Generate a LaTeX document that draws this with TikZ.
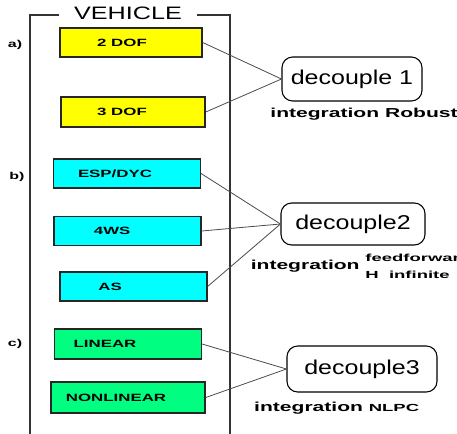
\documentclass[tikz,border=0pt]{standalone}
\usepackage{fontspec}
\setmainfont{Liberation Sans}
\newfontfamily\boxfont[FakeStretch=1.6]{Liberation Sans}
\newfontfamily\decfont[FakeStretch=1.25]{Liberation Sans}
\newfontfamily\titlefont[FakeStretch=1.4]{Liberation Sans}
\newfontfamily\intfont[FakeStretch=1.62]{Liberation Sans}
\newfontfamily\smallfont[FakeStretch=1.8]{Liberation Sans}
\usepackage{tikz}
\usetikzlibrary{positioning}
\definecolor{dofyellow}{RGB}{255,255,0}
\definecolor{ctrlcyan}{RGB}{0,255,255}
\definecolor{modgreen}{RGB}{0,255,128}
\tikzstyle{sysbox} = [rectangle, draw=black!85, line width=1.1pt, minimum width=110pt, minimum height=21.75pt, inner sep=0pt, font=\boxfont\fontsize{7.9}{10}\selectfont\bfseries]
\tikzstyle{decouple} = [rectangle, rounded corners=8pt, draw=black, line width=0.8pt, font=\decfont\fontsize{15}{18}\selectfont]
\tikzstyle{intlabel} = [font=\intfont\fontsize{9.75}{12}\selectfont\bfseries, inner sep=0pt]
\tikzstyle{part} = [font=\boxfont\fontsize{7.5}{9}\selectfont\bfseries]
\tikzstyle{link} = [draw=black!70, line width=0.6pt]
\tikzset{pad/.style={execute at end node={\hspace*{#1pt}}}}
\newcommand{\smalltxt}{\smallfont\fontsize{7.7}{12.75}\selectfont\bfseries}
\begin{document}
\begin{tikzpicture}[x=0.75pt,y=-0.75pt]
\useasboundingbox[fill=white] (0,0) rectangle (457,433);
% vehicle frame
\draw[line width=0.8pt, black!80] (30,440) |- (230,15) -- (230,440);
\node (vehicle) [fill=white, inner xsep=11pt, inner ysep=1pt, font=\titlefont\fontsize{13.5}{16}\selectfont] at (128,13) {VEHICLE};

% a) dynamic models
\node (partA) [part] at (15,45) {a)};
\node (dof2) [sysbox, fill=dofyellow, minimum width=106.5pt, pad=13.5] at (131,42.5) {2 DOF};
\node (dof3) [sysbox, fill=dofyellow, minimum width=108pt, minimum height=22.5pt, pad=16.5] at (133,112) {3 DOF};
\node (dec1) [decouple, minimum width=105pt, minimum height=33pt] at (352,79) {decouple 1};
\node (int1) [intlabel, below=5pt of dec1, xshift=9pt] {integration Robust};

% b) control systems
\node (partB) [part] at (17,177) {b)};
\node (esp) [sysbox, fill=ctrlcyan, pad=18] at (127,173.5) {ESP/DYC};
\node (fourws) [sysbox, fill=ctrlcyan, pad=23] at (127.5,231) {4WS};
\node (as) [sysbox, fill=ctrlcyan, pad=35] at (133.5,286.5) {AS};
\node (dec2) [decouple, minimum width=108pt, minimum height=31.5pt] at (353,224) {decouple2};
\node (int2) [intlabel, below=3pt of dec2, xshift=6pt] {integration {\smalltxt\begin{tabular}{@{}l@{}}feedforward\\H\ \ infinite\end{tabular}}};

% c) models
\node (partC) [part] at (15,344) {c)};
\node (linear) [sysbox, fill=modgreen, minimum height=22.5pt, pad=34.5] at (128,344) {LINEAR};
\node (nonlinear) [sysbox, fill=modgreen, minimum width=115.5pt, minimum height=23.25pt, pad=18] at (128,397.5) {NONLINEAR};
\node (dec3) [decouple, minimum width=112.5pt, minimum height=34.5pt] at (362,369) {decouple3};
\node (int3) [intlabel, below=7pt of dec3, xshift=-19pt] {integration {\smalltxt NLPC}};

\draw [link] (dof2.east) -- (dec1.west);
\draw [link] (dof3.east) -- (dec1.west);
\draw [link] (esp.east) -- (dec2.west);
\draw [link] (fourws.east) -- (dec2.west);
\draw [link] (as.east) -- (dec2.west);
\draw [link] (linear.east) -- (dec3.west);
\draw [link] (nonlinear.east) -- (dec3.west);
\end{tikzpicture}
\end{document}
